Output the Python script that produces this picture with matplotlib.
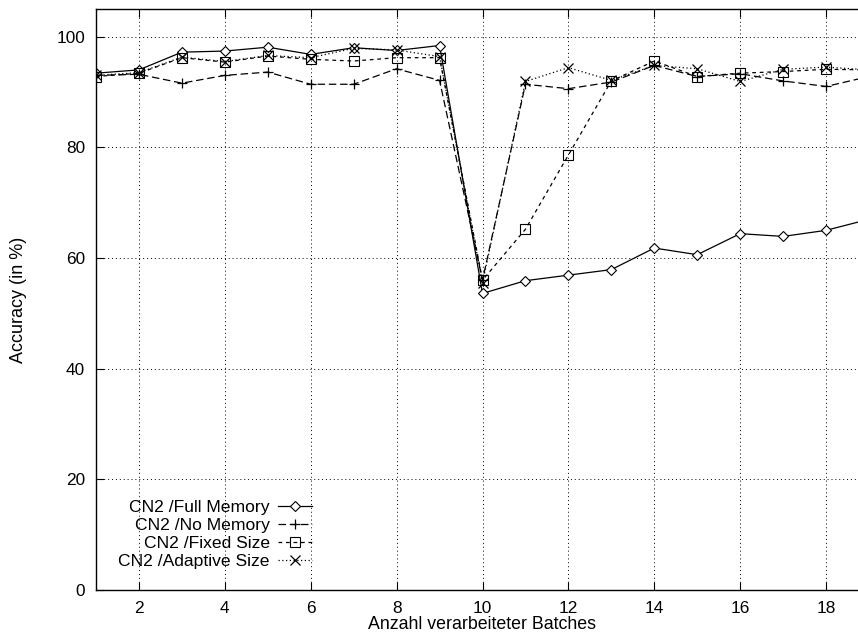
import matplotlib
matplotlib.use('Agg')
import matplotlib.pyplot as plt

# Accuracy per processed batch
batches = list(range(1, 20))

full_memory = [93.4, 94.0, 97.2, 97.4, 98.1, 96.8, 98.0, 97.5, 98.4, 53.6,
               55.9, 56.9, 57.9, 61.8, 60.6, 64.4, 63.9, 65.0, 67.0]
no_memory = [93.0, 93.2, 91.6, 93.0, 93.6, 91.4, 91.4, 94.2, 92.1, 56.0,
             91.4, 90.6, 91.8, 94.8, 92.8, 93.3, 92.0, 91.0, 92.8]
fixed_size = [92.8, 93.4, 96.2, 95.4, 96.5, 95.9, 95.6, 96.2, 96.2, 56.0,
              65.2, 78.6, 92.0, 95.6, 92.8, 93.4, 93.7, 94.1, 94.0]
adaptive_size = [93.0, 93.5, 96.3, 95.5, 96.6, 96.2, 97.9, 97.6, 96.4, 55.5,
                 91.9, 94.4, 92.1, 94.8, 94.2, 91.9, 94.1, 94.5, 94.0]

labels = ['CN2 /Full Memory', 'CN2 /No Memory', 'CN2 /Fixed Size', 'CN2 /Adaptive Size']

plt.rcParams['font.family'] = ['Liberation Sans', 'DejaVu Sans']
plt.rcParams['font.size'] = 12

fig = plt.figure(figsize=(8.58, 6.37), dpi=100)
# the original plot runs out to batch 19, past the right edge of the image
ax = fig.add_axes([96 / 858, 47 / 637, 773 / 858, 581 / 637])

lw = 0.9
ax.plot(batches, full_memory, color='black', lw=lw, ls='-', marker='D',
        ms=5, mfc='white', mew=0.8, label=labels[0])
ax.plot(batches, no_memory, color='black', lw=lw, ls=(0, (6, 3)), marker='+',
        ms=7, mew=0.9, label=labels[1])
ax.plot(batches, fixed_size, color='black', lw=lw, ls=(0, (3, 3)), marker='s',
        ms=6.5, mfc='none', mew=0.8, label=labels[2])
ax.plot(batches, adaptive_size, color='black', lw=lw, ls=(0, (1, 2)), marker='x',
        ms=6.5, mew=0.9, label=labels[3])

ax.set_xlim(1, 19)
ax.set_ylim(0, 105)
ax.set_xticks(range(2, 19, 2))
ax.set_yticks(range(0, 101, 20))
ax.tick_params(direction='in', length=6, width=0.8, top=True, right=False,
               labelsize=12.4, pad=8)
ax.grid(True, color='black', ls=(0, (1, 3)), lw=0.7)
ax.spines['right'].set_visible(False)
for s in ['left', 'bottom', 'top']:
    ax.spines[s].set_linewidth(1.0)

ax.set_xlabel('Anzahl verarbeiteter Batches', fontsize=12.8, labelpad=0)
ax.set_ylabel('Accuracy (in %)', fontsize=13, labelpad=21)

leg = ax.legend(loc='center right', bbox_to_anchor=(0.279, 0.096),
                markerfirst=False, frameon=False, fontsize=12.6,
                handlelength=1.9, handletextpad=0.5, labelspacing=0.16,
                borderpad=0, borderaxespad=0)
for t in leg.get_texts():
    t.set_ha('right')
leg._legend_box.align = 'right'

fig.savefig('out.png', dpi=100)
